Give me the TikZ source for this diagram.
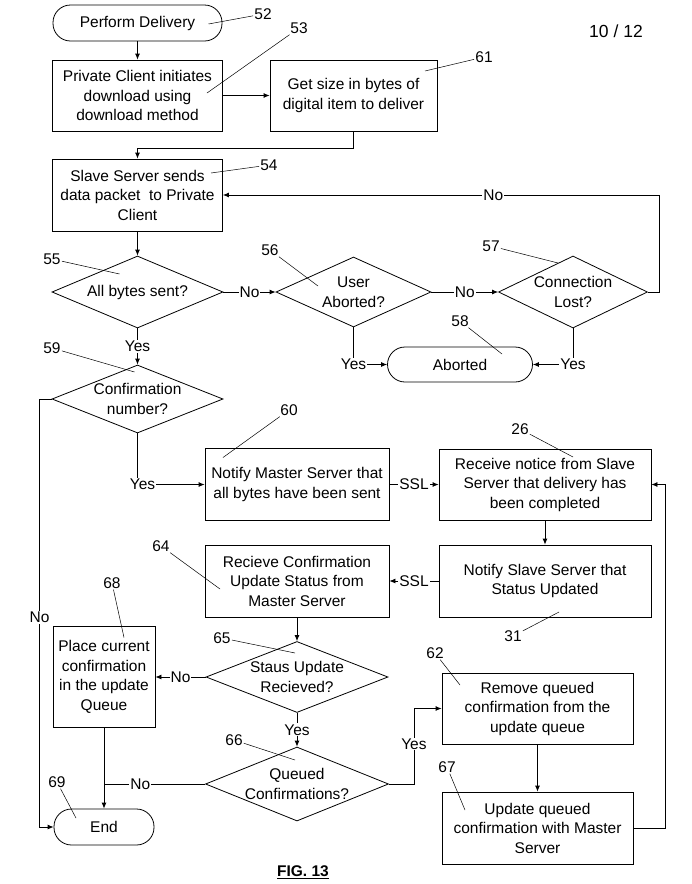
\documentclass[tikz,border=0pt]{standalone}
\usepackage{fontspec}
\setmainfont{Liberation Sans}
\usetikzlibrary{shapes.geometric,arrows.meta,calc}

\begin{document}
\begin{tikzpicture}[x=1pt, y=-1pt,
  every node/.style={font=\fontsize{15.5}{19.5}\selectfont},
  box/.style={rectangle, draw, line width=0.8pt, align=center, inner sep=2pt},
  term/.style={rectangle, draw, line width=0.8pt, rounded corners=17.5pt, minimum height=36pt},
  dec/.style={diamond, draw, line width=0.8pt, inner sep=0pt},
  lab/.style={inner sep=1pt},
  yn/.style={fill=white, inner sep=1pt},
  lead/.style={line width=0.5pt},
  arr/.style={->, line width=0.8pt},
  >={Latex[length=6pt,width=5pt]}]
  \path[use as bounding box, fill=white] (0,0) rectangle (692,884);

  % Start
  \node[term, minimum width=169pt] (deliv) at (137.5,23) {Perform Delivery};
  \node[box, minimum width=170pt, minimum height=71pt] (init) at (137.5,95.5) {Private Client initiates\\download using\\download method};
  \node[box, minimum width=167pt, minimum height=71pt] (size) at (353.5,95.5) {Get size in bytes of\\digital item to deliver};
  \node[box, minimum width=170pt, minimum height=72pt] (send) at (137.5,195) {Slave Server sends\\data packet \ to Private\\Client};

  % Decisions
  \node[dec, minimum width=171pt, minimum height=72pt, label={[align=center]center:All bytes sent?}] (allsent) at (137.5,292) {};
  \node[dec, minimum width=155pt, minimum height=70pt, label={[align=center]center:User\\Aborted?}] (abort) at (353.5,292) {};
  \node[dec, minimum width=149pt, minimum height=72pt, label={[align=center]center:Connection\\Lost?}] (lost) at (573,292) {};
  \node[term, minimum width=145pt, minimum height=35pt] (aborted) at (460,364.5) {Aborted};
  \node[dec, minimum width=171pt, minimum height=68pt, label={[align=center]center:Confirmation\\number?}] (conf) at (137.5,399) {};

  % Status
  \node[box, minimum width=184pt, minimum height=72pt] (notm) at (297,484.5) {Notify Master Server that\\all bytes have been sent};
  \node[box, minimum width=212pt, minimum height=71pt] (recv) at (545,484.5) {Receive notice from Slave\\Server that delivery has\\been completed};
  \node[box, minimum width=212pt, minimum height=72pt] (nots) at (545,581) {Notify Slave Server that\\Status Updated};
  \node[box, minimum width=184pt, minimum height=72pt] (recc) at (297,581) {Recieve Confirmation\\Update Status from\\Master Server};
  \node[dec, minimum width=182pt, minimum height=71pt, label={[align=center]center:Staus Update\\Recieved?}] (stupd) at (297,677) {};
  \node[box, minimum width=102pt, minimum height=101pt] (place) at (104,677) {Place current\\confirmation\\in the update\\Queue};
  \node[dec, minimum width=183pt, minimum height=74pt, label={[align=center]center:Queued\\Confirmations?}] (queued) at (297,784) {};
  \node[term, minimum width=100pt] (end) at (104,827) {End};
  \node[box, minimum width=191pt, minimum height=71pt] (remove) at (537.5,708.5) {Remove queued\\confirmation from the\\update queue};
  \node[box, minimum width=191pt, minimum height=72pt] (updq) at (537.5,828) {Update queued\\confirmation with Master\\Server};

  % Connectors
  \draw[arr] (deliv) -- (init);
  \draw[arr] (init) -- (size);
  \draw[arr] (size.south) -- ++(0,17) -| (send.north);
  \draw[arr] (send) -- (allsent);
  \draw[arr] (allsent) -- node[yn]{No} (abort);
  \draw[arr] (abort) -- node[yn]{No} (lost);
  \draw[arr] (lost.east) -- ++(11,0) |- node[yn, pos=0.69]{No} (send.east);
  \draw[arr] (abort.south) |- node[yn]{Yes} (aborted.west);
  \draw[arr] (lost.south) |- node[yn]{Yes} (aborted.east);
  \draw[arr] (allsent) -- node[yn]{Yes} (conf);
  \draw[arr] (conf.south) |- node[yn, xshift=5pt]{Yes} (notm.west);
  \draw[arr] (conf.west) -- ++(-12,0) |- node[yn, pos=0.255]{No} (end.west);
  \draw[arr] (notm) -- node[yn]{SSL} (recv);
  \draw[arr] (recv) -- (nots);
  \draw[arr] (nots) -- node[yn]{SSL} (recc);
  \draw[arr] (recc) -- (stupd);
  \draw[arr] (stupd) -- node[yn]{No} (place);
  \draw[arr] (stupd) -- node[yn]{Yes} (queued);
  \draw[arr] (place) -- (end);
  \coordinate (qj) at (place.south |- queued.west);
  \draw[line width=0.8pt] (queued.west) -- node[yn, pos=0.64]{No} (qj);
  \draw[arr] (queued.east) -- ++(25,0) |- node[yn, pos=0.265]{Yes} (remove.west);
  \draw[arr] (remove) -- (updq);
  \draw[arr] (updq.east) -- ++(32,0) |- (recv.east);

  % Reference numbers
  \node[lab] (n52) at (263,14) {52};
  \draw[lead] (n52) -- ($(deliv)+(71,1)$);
  \node[lab] (n53) at (299,28) {53};
  \draw[lead] (n53) -- ($(init)+(69.5,-2.5)$);
  \node[lab] (n61) at (484,57) {61};
  \draw[lead] (n61) -- ($(size)+(71.5,-24.5)$);
  \node[lab] (n54) at (269,165) {54};
  \draw[lead] (n54) -- ($(send)+(73.5,-22)$);
  \node[lab] (n55) at (52,259) {55};
  \draw[lead] (n55) -- ($(allsent)+(-18,-18)$);
  \node[lab] (n56) at (270,250) {56};
  \draw[lead] (n56) -- ($(abort)+(-35.5,-6)$);
  \node[lab] (n57) at (491,246) {57};
  \draw[lead] (n57) -- ($(lost)+(-15,-29)$);
  \node[lab] (n58) at (460,321) {58};
  \draw[lead] (n58) -- ($(aborted)+(42,-10.5)$);
  \node[lab] (n59) at (52,348) {59};
  \draw[lead] (n59) -- ($(conf)+(-3,-27)$);
  \node[lab] (n60) at (289,410) {60};
  \draw[lead] (n60) -- ($(notm)+(-74,-27)$);
  \node[lab] (n26) at (520,429) {26};
  \draw[lead] (n26) -- ($(recv)+(28,-27.5)$);
  \node[lab] (n64) at (161,546) {64};
  \draw[lead] (n64) -- ($(recc)+(-77,8)$);
  \node[lab] (n31) at (513,636) {31};
  \draw[lead] (n31) -- ($(nots)+(14,31)$);
  \node[lab] (n68) at (112,583) {68};
  \draw[lead] (n68) -- ($(place)+(20,-39.5)$);
  \node[lab] (n65) at (222,638) {65};
  \draw[lead] (n65) -- ($(stupd)+(-2,-24)$);
  \node[lab] (n66) at (234,740) {66};
  \draw[lead] (n66) -- ($(queued)+(-2,-24)$);
  \node[lab] (n62) at (435,653) {62};
  \draw[lead] (n62) -- ($(remove)+(-77.5,-23.5)$);
  \node[lab] (n67) at (447,767) {67};
  \draw[lead] (n67) -- ($(updq)+(-72.5,-18)$);
  \node[lab] (n69) at (57,782) {69};
  \draw[lead] (n69) -- ($(end)+(-28,-9)$);

  \node[font=\fontsize{17.5}{20}\selectfont] (page) at (616,31) {10 / 12};
  \node[font=\fontsize{15.5}{19.5}\selectfont\bfseries] (fig) at (303,872) {\underline{FIG. 13}};
\end{tikzpicture}
\end{document}
